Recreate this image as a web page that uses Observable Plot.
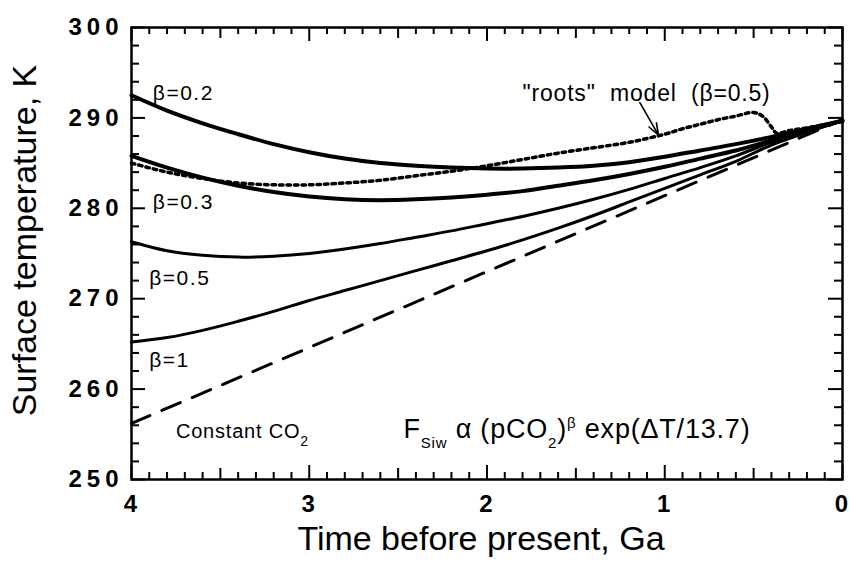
<!DOCTYPE html>
<html><head><meta charset="utf-8">
<script src="https://cdn.jsdelivr.net/npm/d3@7"></script>
<script src="https://cdn.jsdelivr.net/npm/@observablehq/plot@0.6"></script>
<style>
body{margin:0;background:#fff}
svg text{font-family:"Liberation Sans",Arial,Helvetica,sans-serif}
g[aria-label="y-axis tick label"] text{letter-spacing:5px}
.lbl text{letter-spacing:1.5px}
.lbl2 text{letter-spacing:0.8px}
</style>
</head><body><div id="chart"></div>
<script>
// time before present (Ga)
const tGrid = [4.0,3.8,3.6,3.4,3.2,3.0,2.8,2.6,2.4,2.2,2.0,1.8,1.6,1.4,1.2,1.0,0.8,0.6,0.4,0.2,0.0];
// surface temperature (K) for each beta
const beta02 = [292.5,290.8,289.4,288.2,287.1,286.2,285.5,285.0,284.7,284.5,284.4,284.4,284.5,284.7,285.1,285.7,286.4,287.1,287.9,288.8,289.7];
const beta03 = [285.8,284.5,283.4,282.5,281.8,281.3,281.0,280.9,281.0,281.2,281.5,281.9,282.5,283.1,283.8,284.6,285.5,286.4,287.5,288.6,289.7];
const beta05 = [276.3,275.3,274.8,274.6,274.7,275.0,275.5,276.1,276.8,277.5,278.3,279.1,280.0,281.0,282.1,283.3,284.5,285.8,287.3,288.5,289.7];
const beta1  = [265.2,265.7,266.5,267.5,268.6,269.8,270.9,272.0,273.1,274.2,275.3,276.5,277.8,279.2,280.7,282.2,283.7,285.2,287.0,288.4,289.7];
// constant CO2
const tConst = [4.0, 0.0];
const constCO2 = [256.2, 289.8];
// "roots" model (beta = 0.5)
const tRoots = [4.0,3.8,3.6,3.4,3.2,3.0,2.8,2.6,2.4,2.2,2.0,1.8,1.6,1.4,1.2,1.0,0.9,0.8,0.7,0.6,0.5,0.45,0.4,0.37,0.3,0.2,0.0];
const roots  = [285.0,284.0,283.3,282.8,282.6,282.6,282.8,283.1,283.6,284.1,284.7,285.4,286.1,286.7,287.3,288.2,288.8,289.3,289.8,290.2,290.6,290.2,289.0,288.3,288.6,288.9,289.6];

// ticks
const xMajor = [4,3,2,1,0];
const xHalf = [3.5,2.5,1.5,0.5];
const xMinor = d3.range(1,40).map(i => i/10).filter(v => Math.abs(v*2 - Math.round(v*2)) > 1e-6);
const yMajor = [250,260,270,280,290,300];
const yMinor = d3.range(252,300,2).filter(v => v % 10 !== 0);

// labels
const betaLabels = [
  {text:"β=0.2", t:3.88, T:292.7},
  {text:"β=0.3", t:3.88, T:280.7},
  {text:"β=0.5", t:3.90, T:272.3},
  {text:"β=1",   t:3.90, T:263.2}
];
const otherLabels = [
  {text:"Constant CO2", t:3.75, T:255.3, size:20},
  {text:"\"roots\"\u00a0 model\u00a0 (β=0.5)", t:1.80, T:292.7, size:23},
  {text:"F", t:2.47, T:255.6, size:27}
];
const arrowSpec = [{t1:1.14, T1:291.7, t2:1.035, T2:288.1}];

const toRows = (ts, vs) => ts.map((t,i) => ({t, T: vs[i]}));

const W = 850, H = 565, mL = 131, mR = 8, mT = 27, mB = 86;
const innerH = H - mT - mB, innerW = W - mL - mR;

const plot = Plot.plot({
  width: W, height: H,
  marginLeft: mL, marginRight: mR, marginTop: mT, marginBottom: mB,
  style: {fontFamily: "Liberation Sans, Arial, sans-serif", background: "white", color: "black"},
  x: {domain: [4, 0]},
  y: {domain: [250, 300]},
  marks: [
    // ticks (inward, on all four sides)
    Plot.ruleX(xMajor, {x: d => d, insetTop: innerH - 14, strokeWidth: 2}),
    Plot.ruleX(xMajor, {x: d => d, insetBottom: innerH - 14, strokeWidth: 2}),
    Plot.ruleX(xHalf, {x: d => d, insetTop: innerH - 11, strokeWidth: 2}),
    Plot.ruleX(xHalf, {x: d => d, insetBottom: innerH - 11, strokeWidth: 2}),
    Plot.ruleX(xMinor, {x: d => d, insetTop: innerH - 7, strokeWidth: 2}),
    Plot.ruleX(xMinor, {x: d => d, insetBottom: innerH - 7, strokeWidth: 2}),
    Plot.ruleY(yMajor, {y: d => d, insetRight: innerW - 14, strokeWidth: 2}),
    Plot.ruleY(yMajor, {y: d => d, insetLeft: innerW - 14, strokeWidth: 2}),
    Plot.ruleY(yMinor, {y: d => d, insetRight: innerW - 8, strokeWidth: 2}),
    Plot.ruleY(yMinor, {y: d => d, insetLeft: innerW - 8, strokeWidth: 2}),
    Plot.frame({stroke: "black", strokeWidth: 2.5}),
    // axes labels
    Plot.axisX({ticks: xMajor, tickSize: 0, tickPadding: 15, fontSize: 24, fontWeight: "bold", tickFormat: d => String(d), label: null, dx: -1}),
    Plot.axisY({ticks: yMajor, tickSize: 0, tickPadding: 8, fontSize: 24, fontWeight: "bold", tickFormat: d => String(d), label: null}),
    Plot.text(["Time before present, Ga"], {text: d => d, frameAnchor: "bottom", dy: 70, dx: -6, fontSize: 34}),
    Plot.text(["Surface temperature, K"], {text: d => d, frameAnchor: "left", textAnchor: "middle", rotate: -90, dx: -106, dy: -13, fontSize: 34}),
    // curves
    Plot.line(toRows(tConst, constCO2), {x: "t", y: "T", stroke: "black", strokeWidth: 3, strokeDasharray: "20,13"}),
    Plot.line(toRows(tGrid, beta1), {x: "t", y: "T", stroke: "black", strokeWidth: 3, curve: "catmull-rom"}),
    Plot.line(toRows(tGrid, beta05), {x: "t", y: "T", stroke: "black", strokeWidth: 3, curve: "catmull-rom"}),
    Plot.line(toRows(tGrid, beta03), {x: "t", y: "T", stroke: "black", strokeWidth: 4, curve: "catmull-rom"}),
    Plot.line(toRows(tGrid, beta02), {x: "t", y: "T", stroke: "black", strokeWidth: 4, curve: "catmull-rom"}),
    Plot.line(toRows(tRoots, roots), {x: "t", y: "T", stroke: "black", strokeWidth: 3.5, strokeDasharray: "3.5,4", curve: "catmull-rom"}),
    // annotations
    Plot.text(betaLabels, {x: "t", y: "T", text: "text", textAnchor: "start", fontSize: 21, className: "lbl"}),
    Plot.text(otherLabels, {x: "t", y: "T", text: "text", textAnchor: "start", fontSize: "size", className: "lbl2"}),
    Plot.arrow(arrowSpec, {x1: "t1", y1: "T1", x2: "t2", y2: "T2", stroke: "black", strokeWidth: 1.6, headLength: 12, headAngle: 40})
  ]
});

// subscripts / superscripts
const sel = d3.select(plot);
sel.selectAll(".lbl2 text").each(function() {
  const node = d3.select(this);
  const txt = node.text();
  if (txt === "Constant CO2") {
    node.text("");
    node.append("tspan").text("Constant CO");
    node.append("tspan").attr("font-size", 14).attr("dy", 8).text("2");
  } else if (txt === "F") {
    node.text("");
    node.append("tspan").text("F");
    node.append("tspan").attr("font-size", 15).attr("dy", 10).text("Siw");
    node.append("tspan").attr("dy", -10).text(" α (pCO");
    node.append("tspan").attr("font-size", 15).attr("dy", 10).text("2");
    node.append("tspan").attr("dy", -10).text(")");
    node.append("tspan").attr("font-size", 15).attr("dy", -10).text("β");
    node.append("tspan").attr("dy", 10).text(" exp(ΔT/13.7)");
  }
});
document.getElementById("chart").appendChild(plot);
</script>
</body></html>
